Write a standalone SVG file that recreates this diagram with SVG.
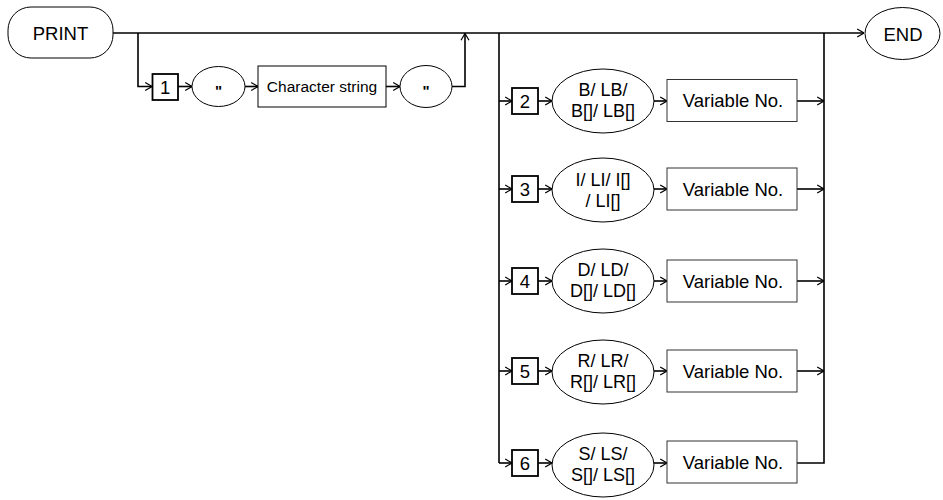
<svg xmlns="http://www.w3.org/2000/svg" width="943" height="500" viewBox="0 0 943 500">
<defs>
<marker id="arr" viewBox="0 0 10 12" refX="9.5" refY="6" markerWidth="8" markerHeight="11" markerUnits="userSpaceOnUse" orient="auto">
<path d="M1,1 L9.5,6 L1,11" fill="none" stroke="#000" stroke-width="1.5"/>
</marker>
<style>
.c{fill:none;stroke:#000;stroke-width:1.6}
.a{marker-end:url(#arr)}
.sh{fill:#fff;stroke:#000;stroke-width:1}
.nb{fill:#fff;stroke:#000;stroke-width:1.8}
.vb{fill:#fff;stroke:#333;stroke-width:1}
text{font-family:"Liberation Sans",Arial,sans-serif;fill:#000;text-anchor:middle}
.t18{font-size:18.5px}
.t17{font-size:18px}
.t15{font-size:15.5px}
.q{font-size:15px;font-weight:bold}
</style>
</defs>
<rect width="943" height="500" fill="#fff"/>

<g id="connectors">
<path class="c a" d="M113,33 H864"/>
<path class="c a" d="M138,33 V86.5 H152"/>
<path class="c a" d="M178,86.5 H192"/>
<path class="c a" d="M245,86.5 H258"/>
<path class="c a" d="M386,86.5 H400"/>
<path class="c a" d="M452,86.5 H465 V33.5"/>
<path class="c" d="M499,33 V463"/>
<path class="c" d="M824,33 V463 H797"/>
<path class="c a" d="M499,101 H512"/>
<path class="c a" d="M538,101 H552"/>
<path class="c a" d="M654,101 H667"/>
<path class="c a" d="M797,101 H824"/>
<path class="c a" d="M499,189 H512"/>
<path class="c a" d="M538,189 H552"/>
<path class="c a" d="M654,189 H667"/>
<path class="c a" d="M797,189 H824"/>
<path class="c a" d="M499,281 H512"/>
<path class="c a" d="M538,281 H552"/>
<path class="c a" d="M654,281 H667"/>
<path class="c a" d="M797,281 H824"/>
<path class="c a" d="M499,371 H512"/>
<path class="c a" d="M538,371 H552"/>
<path class="c a" d="M654,371 H667"/>
<path class="c a" d="M797,371 H824"/>
<path class="c a" d="M499,463 H512"/>
<path class="c a" d="M538,463 H552"/>
<path class="c a" d="M654,463 H667"/>
</g>

<g id="print">
<rect class="sh" x="8" y="7" width="105" height="51" rx="23" ry="23"/>
<text class="t18" x="60.5" y="39.5">PRINT</text>
</g>
<g id="end">
<ellipse class="sh" cx="902.5" cy="33.5" rx="37.5" ry="26"/>
<text class="t18" x="903" y="40.5">END</text>
</g>

<g id="n1">
<rect class="nb" x="152.5" y="74" width="25.5" height="26"/>
<text class="t18" x="165.2" y="93.5">1</text>
</g>
<g id="q1">
<ellipse class="sh" cx="218.5" cy="86.5" rx="26.5" ry="20"/>
<text class="q" x="218.5" y="96">"</text>
</g>
<g id="charstr">
<rect class="sh" x="258" y="66" width="128" height="41"/>
<text class="t15" x="322" y="92">Character string</text>
</g>
<g id="q2">
<ellipse class="sh" cx="426" cy="86.5" rx="26" ry="21"/>
<text class="q" x="426" y="96">"</text>
</g>

<g id="n2">
<rect class="nb" x="512" y="88" width="26" height="26"/>
<text class="t18" x="525" y="107.5">2</text>
</g>
<g id="t2">
<ellipse class="sh" cx="603" cy="101" rx="51" ry="32"/>
<text class="t17" x="603" y="96">B/ LB/</text>
<text class="t17" x="603" y="117">B[]/ LB[]</text>
</g>
<g id="v2">
<rect class="vb" x="667" y="79.5" width="130" height="42"/>
<text class="t18" x="733" y="107">Variable No.</text>
</g>

<g id="n3">
<rect class="nb" x="512" y="176" width="26" height="26"/>
<text class="t18" x="525" y="195.5">3</text>
</g>
<g id="t3">
<ellipse class="sh" cx="603" cy="190" rx="51" ry="32"/>
<text class="t17" x="603" y="186">I/ LI/ I[]</text>
<text class="t17" x="603" y="207">/ LI[]</text>
</g>
<g id="v3">
<rect class="vb" x="667" y="168" width="130" height="42"/>
<text class="t18" x="733" y="195.5">Variable No.</text>
</g>

<g id="n4">
<rect class="nb" x="512" y="268" width="26" height="26"/>
<text class="t18" x="525" y="287.5">4</text>
</g>
<g id="t4">
<ellipse class="sh" cx="603" cy="281" rx="51" ry="32"/>
<text class="t17" x="603" y="276">D/ LD/</text>
<text class="t17" x="603" y="297">D[]/ LD[]</text>
</g>
<g id="v4">
<rect class="vb" x="667" y="260" width="130" height="42"/>
<text class="t18" x="733" y="287.5">Variable No.</text>
</g>

<g id="n5">
<rect class="nb" x="512" y="358" width="26" height="26"/>
<text class="t18" x="525" y="377.5">5</text>
</g>
<g id="t5">
<ellipse class="sh" cx="603" cy="372" rx="51" ry="32"/>
<text class="t17" x="603" y="367">R/ LR/</text>
<text class="t17" x="603" y="388">R[]/ LR[]</text>
</g>
<g id="v5">
<rect class="vb" x="667" y="350" width="130" height="42"/>
<text class="t18" x="733" y="377.5">Variable No.</text>
</g>

<g id="n6">
<rect class="nb" x="512" y="450" width="26" height="26"/>
<text class="t18" x="525" y="469.5">6</text>
</g>
<g id="t6">
<ellipse class="sh" cx="603" cy="465" rx="51" ry="32"/>
<text class="t17" x="603" y="460">S/ LS/</text>
<text class="t17" x="603" y="481">S[]/ LS[]</text>
</g>
<g id="v6">
<rect class="vb" x="667" y="441" width="130" height="42"/>
<text class="t18" x="733" y="468.5">Variable No.</text>
</g>
</svg>
